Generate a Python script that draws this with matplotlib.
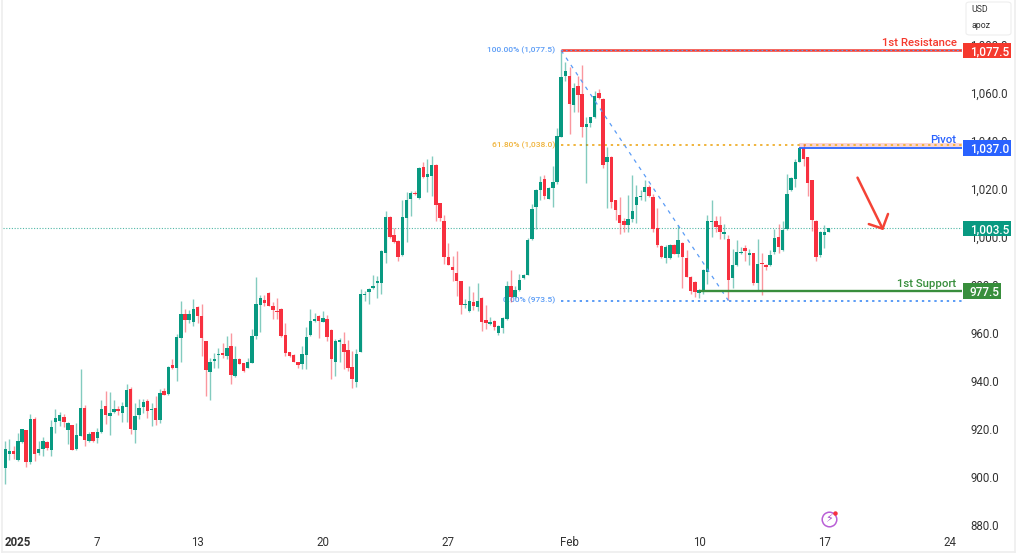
#!/usr/bin/env python3
"""Candlestick chart with fib levels, pivot, support and resistance."""

import matplotlib

matplotlib.use("Agg")
import matplotlib.pyplot as plt
import numpy as np
from matplotlib.lines import Line2D
from matplotlib.patches import FancyBboxPatch, Rectangle
from matplotlib.ticker import FuncFormatter

opens = [
    904.0, 909.8, 911.1, 907.3, 914.5, 919.5, 906.2, 924.2, 910.1, 911.9,
    914.5, 911.5, 922.8, 923.4, 925.0, 919.8, 921.6, 911.7, 917.3, 929.0,
    914.9, 918.8, 916.3, 918.7, 929.7, 925.3, 927.2, 928.5, 926.9, 929.4,
    936.6, 919.8, 925.9, 929.3, 931.9, 928.2, 928.9, 923.9, 935.9, 934.7,
    946.9, 945.4, 958.1, 967.8, 965.4, 964.6, 970.8, 967.2, 956.6, 944.0,
    948.2, 950.7, 951.8, 950.6, 954.5, 942.2, 949.2, 947.6, 945.6, 947.7,
    958.8, 971.6, 973.9, 976.8, 971.2, 969.3, 969.8, 959.3, 951.9, 950.9,
    947.9, 947.3, 950.9, 959.2, 964.9, 967.1, 964.7, 965.8, 961.4, 948.1,
    956.3, 955.3, 953.1, 945.8, 939.8, 952.3, 975.8, 977.0, 978.7, 980.6,
    980.6, 993.1, 1008.3, 1000.8, 998.3, 992.4, 1008.0, 1015.8, 1018.2, 1016.3,
    1029.0, 1025.0, 1025.3, 1029.7, 1014.1, 1006.5, 991.7, 987.3, 984.8, 981.6,
    971.5, 969.0, 973.0, 970.9, 974.5, 965.4, 963.9, 965.0, 960.0, 962.0,
    965.7, 979.5, 975.1, 977.7, 982.7, 984.3, 999.0, 1012.4, 1019.6, 1024.2,
    1015.9, 1020.4, 1022.8, 1041.7, 1066.8, 1066.8, 1054.6, 1062.5, 1059.4, 1045.7,
    1047.5, 1049.7, 1060.0, 1057.5, 1031.2, 1033.3, 1015.2, 1009.1, 1006.4, 1004.9,
    1007.4, 1013.4, 1016.5, 1018.8, 1020.7, 1016.5, 1003.5, 996.1, 991.1, 991.1,
    996.6, 993.0, 997.5, 991.1, 983.3, 981.3, 976.7, 977.1, 985.4, 1006.3,
    1006.6, 1004.8, 1001.3, 999.2, 982.7, 988.2, 993.2, 995.4, 992.5, 993.2,
    980.6, 989.2, 988.2, 988.2, 993.6, 1000.1, 994.4, 1003.4, 1019.3, 1024.0,
    1031.2, 1037.0, 1033.0, 1023.5, 1006.6, 992.3, 1000.6, 1002.2,
]
highs = [
    914.9, 915.9, 912.9, 918.4, 920.3, 919.5, 926.4, 925.0, 915.3, 916.6,
    914.9, 923.9, 928.3, 927.0, 926.4, 923.1, 921.6, 922.5, 944.9, 929.9,
    918.7, 918.8, 920.5, 932.0, 935.9, 935.4, 932.0, 929.7, 931.5, 938.9,
    937.5, 930.8, 932.5, 932.5, 932.5, 930.8, 934.0, 936.6, 937.3, 946.3,
    949.1, 959.6, 973.3, 969.8, 969.6, 974.0, 971.2, 971.9, 956.7, 949.8,
    951.6, 953.9, 956.0, 958.8, 959.9, 954.6, 949.8, 947.7, 949.8, 961.5,
    983.4, 975.8, 975.8, 976.9, 972.9, 974.4, 970.3, 964.3, 952.3, 951.2,
    948.1, 954.6, 962.6, 969.8, 968.5, 967.5, 969.3, 967.5, 961.5, 957.4,
    958.0, 960.3, 957.1, 952.4, 953.2, 978.1, 977.6, 978.6, 984.1, 983.8,
    994.7, 1010.6, 1008.6, 1003.7, 998.5, 1015.2, 1018.7, 1019.1, 1019.1, 1029.0,
    1031.1, 1032.5, 1033.5, 1030.4, 1014.1, 1009.0, 997.6, 992.2, 994.0, 981.7,
    974.3, 979.5, 977.2, 980.6, 974.8, 971.6, 966.8, 965.4, 963.2, 966.8,
    981.6, 986.4, 979.5, 984.7, 984.5, 999.7, 1013.8, 1020.0, 1025.1, 1025.9,
    1020.7, 1029.3, 1045.3, 1077.5, 1072.6, 1070.5, 1063.9, 1067.0, 1071.5, 1050.0,
    1050.0, 1060.8, 1061.5, 1057.8, 1037.3, 1033.4, 1015.2, 1016.5, 1008.0, 1017.2,
    1025.5, 1021.7, 1019.3, 1023.5, 1021.7, 1017.9, 1012.1, 996.4, 996.8, 996.9,
    997.2, 1004.8, 997.7, 994.7, 983.6, 981.7, 978.5, 986.8, 1009.1, 1015.2,
    1008.8, 1008.5, 1005.5, 1000.6, 995.1, 998.6, 995.8, 996.5, 995.1, 993.4,
    999.2, 993.3, 988.9, 994.4, 1003.4, 1005.5, 1006.6, 1026.2, 1024.8, 1032.3,
    1037.3, 1038.7, 1033.1, 1023.5, 1006.9, 1002.4, 1004.8, 1003.5,
]
lows = [
    897.4, 907.3, 907.6, 906.8, 914.2, 904.3, 905.7, 906.6, 909.4, 908.7,
    911.2, 908.7, 918.4, 921.2, 920.9, 913.8, 911.2, 911.5, 917.0, 913.1,
    914.5, 914.8, 914.2, 918.4, 922.3, 917.6, 926.9, 925.9, 923.1, 923.1,
    918.2, 914.1, 924.2, 926.7, 924.6, 921.2, 921.6, 922.5, 934.3, 934.3,
    945.2, 940.1, 948.1, 960.6, 964.3, 963.1, 964.0, 950.6, 934.0, 932.1,
    945.6, 945.6, 949.6, 949.2, 938.8, 941.6, 947.2, 944.0, 945.4, 947.4,
    957.5, 960.3, 971.4, 971.2, 966.0, 965.8, 958.5, 950.5, 949.9, 947.9,
    945.5, 945.0, 945.1, 958.9, 964.7, 958.1, 964.4, 956.8, 940.9, 942.2,
    948.1, 945.0, 944.4, 937.3, 937.5, 952.1, 973.3, 971.9, 978.3, 974.7,
    976.2, 989.2, 999.3, 997.5, 989.9, 992.0, 997.8, 1008.6, 1017.3, 1015.6,
    1024.6, 1018.7, 1016.9, 1006.6, 1006.5, 988.5, 988.1, 981.7, 975.4, 967.9,
    970.5, 968.7, 969.6, 969.3, 961.0, 961.5, 963.3, 961.3, 959.0, 959.9,
    965.4, 973.0, 974.6, 977.3, 982.4, 984.0, 998.6, 1003.4, 1015.2, 1015.9,
    1015.6, 1012.4, 1021.8, 1041.4, 1064.9, 1042.8, 1051.8, 1051.8, 1041.7, 1022.4,
    1045.6, 1049.5, 1057.4, 1028.7, 1012.1, 1012.0, 1006.9, 1001.3, 1002.0, 1001.8,
    1006.2, 1005.8, 1015.2, 1014.9, 1016.5, 1002.0, 995.8, 991.1, 989.3, 990.6,
    992.8, 991.7, 978.9, 983.1, 976.4, 974.8, 974.6, 976.4, 980.3, 999.9,
    1002.0, 999.2, 999.2, 973.9, 978.9, 987.8, 993.0, 990.0, 988.3, 979.9,
    977.6, 975.9, 986.4, 987.9, 992.9, 993.3, 994.1, 1002.7, 1019.0, 1020.7,
    1030.9, 1029.3, 1016.8, 1002.3, 990.0, 991.4, 995.5, 1002.0,
]
closes = [
    911.7, 911.1, 909.5, 915.1, 920.0, 906.2, 924.2, 909.8, 911.9, 915.1,
    912.3, 920.9, 924.5, 926.1, 923.2, 922.7, 911.5, 917.4, 929.0, 915.6,
    918.1, 915.1, 918.7, 928.5, 926.1, 926.9, 928.5, 927.6, 929.6, 936.5,
    920.2, 925.6, 929.0, 931.4, 927.6, 928.5, 923.9, 935.0, 934.3, 945.8,
    945.4, 958.2, 967.8, 965.4, 967.8, 969.8, 967.1, 957.8, 944.8, 947.8,
    949.1, 951.3, 951.0, 953.9, 942.7, 949.4, 947.3, 944.2, 948.0, 958.9,
    971.9, 974.4, 972.3, 971.4, 969.6, 968.9, 958.6, 951.6, 950.6, 948.1,
    946.5, 951.3, 958.2, 964.9, 965.8, 964.9, 966.2, 958.5, 949.1, 956.6,
    957.0, 952.3, 945.4, 940.7, 951.3, 976.2, 976.2, 978.3, 979.7, 981.5,
    993.9, 1008.3, 1000.0, 997.8, 991.8, 1008.3, 1015.2, 1018.1, 1017.6, 1028.6,
    1024.9, 1026.3, 1030.0, 1013.3, 1008.0, 991.7, 988.1, 986.2, 981.5, 971.6,
    971.9, 973.2, 971.4, 973.2, 964.7, 964.2, 964.4, 962.7, 962.9, 966.4,
    979.7, 975.1, 977.8, 982.2, 984.0, 998.8, 1011.7, 1019.6, 1022.9, 1017.0,
    1020.1, 1022.9, 1042.0, 1066.5, 1069.1, 1055.3, 1061.8, 1059.1, 1045.6, 1046.8,
    1049.7, 1058.7, 1057.8, 1029.7, 1033.0, 1014.3, 1011.0, 1005.9, 1004.8, 1007.6,
    1010.6, 1016.5, 1016.8, 1020.7, 1017.0, 1003.4, 996.5, 991.4, 995.7, 996.6,
    993.0, 998.7, 991.7, 983.3, 977.3, 976.9, 977.7, 986.4, 1006.6, 1006.7,
    1004.1, 1001.9, 1001.9, 982.0, 988.2, 993.7, 993.7, 993.9, 993.3, 980.6,
    988.6, 988.6, 987.5, 992.6, 999.5, 995.7, 1003.0, 1017.9, 1024.6, 1031.2,
    1037.0, 1032.3, 1022.3, 1006.9, 991.6, 1002.2, 1002.0, 1003.5,
]

x_tick_bars = [3, 22, 46, 76, 106, 135, 166, 196, 226]
x_tick_labels = ["2025", "7", "13", "20", "27", "Feb", "10", "17", "24"]
price_ticks = [880, 900, 920, 940, 960, 980, 1000, 1020, 1040, 1060, 1080]

resistance = 1077.5
pivot = 1037.0
last_price = 1003.5
support = 977.5
fib_100 = 1077.5
fib_618 = 1038.0
fib_0 = 973.5
fib_start_bar = 133
fib_end_bar = 173
pivot_start_bar = 190
support_start_bar = 166

arrow_shaft_bars = [203.9, 209.9]
arrow_shaft_prices = [1024.6, 1003.4]
arrow_head_bars = [206.6, 209.9, 211.2]
arrow_head_prices = [1005.3, 1003.4, 1009.5]

GREEN = "#089981"
RED = "#f7303f"
FIB_BLUE = "#5b9cf6"
FIB_ORANGE = "#f0b43c"
LABEL_RED = "#f5392d"
LABEL_BLUE = "#2962ff"
LABEL_GREEN = "#388e3c"
TEXT = "#333333"
FONT = "Roboto"


def price_tag(ax, price, text, color, width_px):
    """Coloured box on the price scale, the same as TradingView draws it."""
    trans = ax.get_yaxis_transform()
    ax_w = ax.get_window_extent().width
    ax.add_patch(
        Rectangle(
            (1.001, price - 3.2),
            width_px / ax_w,
            6.4,
            transform=trans,
            facecolor=color,
            edgecolor="none",
            clip_on=False,
            zorder=6,
        )
    )
    ax.text(
        1 + 8 / ax_w,
        price,
        text,
        transform=trans,
        color="white",
        fontsize=8.5,
        fontweight="medium",
        va="center_baseline",
        ha="left",
        clip_on=False,
        zorder=7,
    )


def main() -> None:
    plt.rcParams["font.family"] = [FONT, "DejaVu Sans"]

    fig = plt.figure(figsize=(10.18, 5.59), dpi=100)
    ax = fig.add_axes([3 / 1018, 29 / 559, 959 / 1018, 530 / 559])

    bars = np.arange(len(opens))
    o = np.array(opens)
    h = np.array(highs)
    lo = np.array(lows)
    c = np.array(closes)
    up = c >= o

    # last price line goes under the candles
    ax.axhline(last_price, color=GREEN, lw=0.8, ls=(0, (1, 1.5)), alpha=0.7, zorder=1)

    # fib levels and trend line
    right = 229
    ax.hlines(fib_618, fib_start_bar, right, color=FIB_ORANGE, lw=1.4, ls=(0, (1.2, 2)), zorder=1.5)
    ax.hlines(fib_0, fib_start_bar, right, color=FIB_BLUE, lw=1.4, ls=(0, (1.2, 2)), zorder=1.5)
    ax.plot(
        [fib_start_bar, fib_end_bar],
        [fib_100, fib_0],
        color=FIB_BLUE,
        lw=0.9,
        ls=(0, (3, 4)),
        zorder=4,
    )

    fib_kw = dict(fontsize=6.0, fontweight="medium", ha="right", va="center", zorder=1.5)
    ax.text(131.5, fib_100, "100.00% (1,077.5)", color=FIB_BLUE, **fib_kw)
    ax.text(131.5, fib_618, "61.80% (1,038.0)", color=FIB_ORANGE, **fib_kw)
    ax.text(131.5, fib_0, "0.00% (973.5)", color=FIB_BLUE, **fib_kw)

    # candles
    for mask, color in ((up, GREEN), (~up, RED)):
        ax.vlines(bars[mask], lo[mask], h[mask], color=color, lw=1.0, alpha=0.5, zorder=2)
        ax.bar(
            bars[mask],
            np.abs(c - o)[mask],
            bottom=np.minimum(o, c)[mask],
            width=0.82,
            color=color,
            linewidth=0,
            zorder=3,
        )

    # horizontal levels
    ax.hlines(resistance, fib_start_bar, right, color=LABEL_RED, lw=1.8, zorder=4)
    ax.hlines(resistance, fib_start_bar, right, color=FIB_BLUE, lw=0.8, ls=(0, (1.5, 2.5)), zorder=4.5)
    ax.fill_between([pivot_start_bar, right], pivot + 0.4, pivot + 2.2, color="#fbd4d4", lw=0, zorder=1)
    ax.hlines(pivot, pivot_start_bar, right, color=LABEL_BLUE, lw=1.3, zorder=4)
    ax.hlines(support, support_start_bar, right, color=LABEL_GREEN, lw=1.7, zorder=4)

    level_kw = dict(fontsize=8.2, fontweight="medium", ha="right", va="bottom", zorder=5)
    ax.text(227.6, resistance + 0.9, "1st Resistance", color=LABEL_RED, **level_kw)
    ax.text(227.6, pivot + 1.0, "Pivot", color=LABEL_BLUE, **level_kw)
    ax.text(227.6, support + 1.0, "1st Support", color=LABEL_GREEN, **level_kw)

    # hand drawn down arrow
    ax.plot(arrow_shaft_bars, arrow_shaft_prices, color="#f44336", lw=1.8, solid_capstyle="round", zorder=5)
    ax.plot(arrow_head_bars, arrow_head_prices, color="#f44336", lw=1.8, solid_capstyle="round", zorder=5)

    # small alert icon near the time scale
    ax.plot(197, 882.7, "o", ms=10.5, mfc="none", mec="#b95fd6", mew=1.1, zorder=5)
    ax.text(197, 882.5, "\u26a1", color="#a54cc9", fontsize=8, ha="center", va="center",
            family="DejaVu Sans", zorder=5)
    ax.plot(198.4, 885.3, "o", ms=3.2, color="#f7303f", mew=0, zorder=6)

    ax.set_xlim(-0.55, 228.9)
    ax.set_ylim(878.1, 1098.46)

    ax.set_xticks(x_tick_bars)
    ax.set_xticklabels(x_tick_labels)
    ax.set_yticks(price_ticks)
    ax.yaxis.set_major_formatter(FuncFormatter(lambda v, _: f"{v:,.1f}"))
    ax.yaxis.tick_right()
    ax.tick_params(axis="y", length=0, pad=5.8, labelsize=8.3, labelcolor=TEXT)
    ax.tick_params(axis="x", length=0, pad=4, labelsize=8.3, labelcolor=TEXT)
    ax.get_xticklabels()[0].set_fontweight("bold")
    for spine in ax.spines.values():
        spine.set_visible(False)

    price_tag(ax, resistance, "1,077.5", LABEL_RED, 48)
    price_tag(ax, pivot, "1,037.0", LABEL_BLUE, 48)
    price_tag(ax, last_price, "1,003.5", GREEN, 48)
    price_tag(ax, support, "977.5", LABEL_GREEN, 38)

    # currency / unit box in the top right corner
    fig.add_artist(
        FancyBboxPatch(
            (966 / 1018, 1 - 35 / 559),
            45 / 1018,
            33 / 559,
            boxstyle="round,pad=0,rounding_size=0.004",
            transform=fig.transFigure,
            facecolor="white",
            edgecolor="#eeeeee",
            linewidth=0.8,
            zorder=8,
        )
    )
    fig.text(971 / 1018, 1 - 10 / 559, "USD", fontsize=6.3, color=TEXT, va="center", zorder=9)
    fig.text(971 / 1018, 1 - 26 / 559, "apoz", fontsize=6.3, color=TEXT, va="center", zorder=9)

    # pale frame around the chart
    frame = dict(color="#eeeeee", lw=1.2, transform=fig.transFigure)
    fig.add_artist(Line2D([2 / 1018, 2 / 1018], [7 / 559, 1], **frame))
    fig.add_artist(Line2D([1015 / 1018, 1015 / 1018], [7 / 559, 1], **frame))
    fig.add_artist(Line2D([2 / 1018, 1015 / 1018], [7 / 559, 7 / 559], **frame))

    plt.savefig("out.png", dpi=100)
    plt.close()


if __name__ == "__main__":
    main()
